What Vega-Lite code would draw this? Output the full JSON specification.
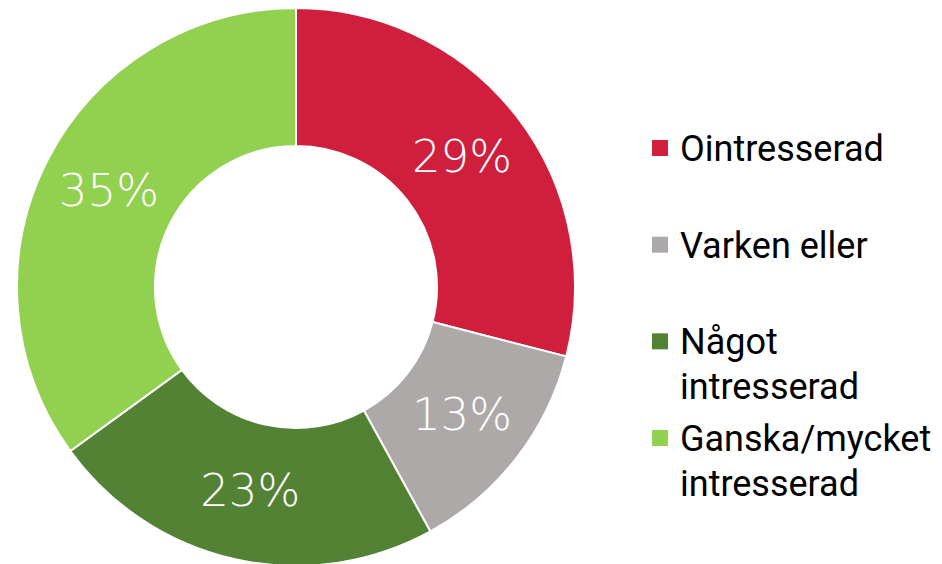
{
  "$schema": "https://vega.github.io/schema/vega-lite/v6.json",
  "padding": 0,
  "background": "white",
  "spacing": 60,
  "config": {"view": {"stroke": null}},
  "data": {"values": [
    {"kat": "Ointresserad", "label": "Ointresserad", "andel": 29, "txt": "29%", "ord": 1},
    {"kat": "Varken eller", "label": "Varken eller", "andel": 13, "txt": "13%", "ord": 2},
    {"kat": "Något intresserad", "label": "Något\nintresserad", "andel": 23, "txt": "23%", "ord": 3},
    {"kat": "Ganska/mycket intresserad", "label": "Ganska/mycket\nintresserad", "andel": 35, "txt": "35%", "ord": 4}
  ]},
  "hconcat": [
    {
      "width": 592,
      "height": 574,
      "encoding": {
        "theta": {"field": "andel", "type": "quantitative", "stack": true},
        "order": {"field": "ord", "type": "quantitative"}
      },
      "layer": [
        {
          "mark": {"type": "arc", "outerRadius": 279, "innerRadius": 141, "stroke": "white", "strokeWidth": 2},
          "encoding": {
            "color": {
              "field": "kat", "type": "nominal", "legend": null,
              "scale": {"domain": ["Ointresserad", "Varken eller", "Något intresserad", "Ganska/mycket intresserad"],
                        "range": ["#D01F3C", "#ADA9A8", "#548235", "#92D050"]}
            }
          }
        },
        {
          "mark": {"type": "text", "radius": 210, "font": "DejaVu Sans", "fontWeight": 200, "fontSize": 45, "fill": "white"},
          "encoding": {
            "text": {"field": "txt", "type": "nominal"},
            "detail": {"field": "kat"}
          }
        }
      ]
    },
    {
      "width": 16,
      "height": 574,
      "encoding": {
        "y": {"field": "ord", "type": "ordinal", "axis": null, "scale": {"type": "point", "range": [148, 438], "padding": 0}}
      },
      "layer": [
        {
          "mark": {"type": "square", "size": 256, "filled": true, "opacity": 1},
          "encoding": {
            "color": {
              "field": "kat", "type": "nominal", "legend": null,
              "scale": {"domain": ["Ointresserad", "Varken eller", "Något intresserad", "Ganska/mycket intresserad"],
                        "range": ["#D01F3C", "#ADA9A8", "#548235", "#92D050"]}
            }
          }
        },
        {
          "mark": {"type": "text", "align": "left", "baseline": "alphabetic", "dx": 20, "dy": 13, "font": "Roboto", "fontSize": 36, "lineBreak": "\n", "lineHeight": 45, "fill": "black"},
          "encoding": {
            "text": {"field": "label", "type": "nominal"}
          }
        }
      ]
    }
  ]
}
